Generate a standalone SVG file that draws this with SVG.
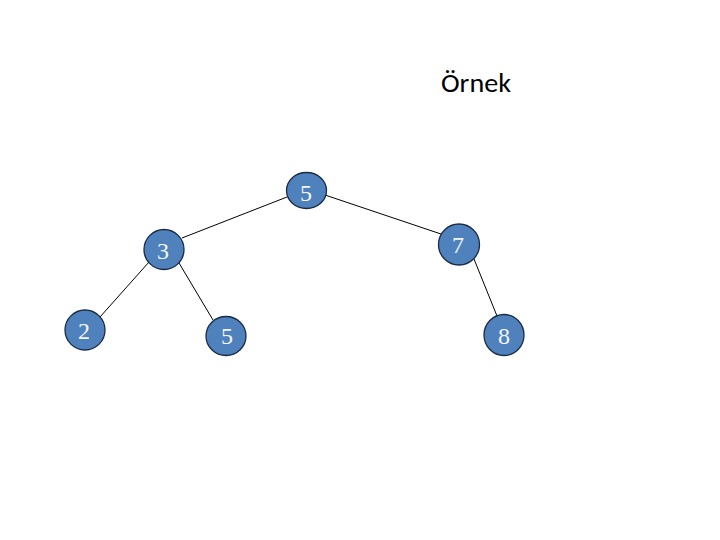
<svg xmlns="http://www.w3.org/2000/svg" width="720" height="540" viewBox="0 0 720 540">
<style>
.n{fill:#4F81BD;stroke:#1a2a44;stroke-width:1.3}
.t{font-family:"Liberation Serif","Times New Roman",serif;font-size:24px;fill:#f2f6fc;text-anchor:middle}
.e{stroke:#000;stroke-width:1;fill:none}
.title{font-family:Carlito,"Open Sans","Liberation Sans",sans-serif;font-size:26px;fill:#000}
</style>
<rect width="720" height="540" fill="#fff"/>
<text class="title" x="441" y="92" textLength="70" lengthAdjust="spacingAndGlyphs">Örnek</text>
<g id="connectors">
<line class="e" x1="287" y1="197" x2="182" y2="238"/>
<line class="e" x1="325" y1="195" x2="441" y2="234"/>
<line class="e" x1="149" y1="262" x2="100" y2="317"/>
<line class="e" x1="179" y1="263" x2="213" y2="320"/>
<line class="e" x1="474" y1="259" x2="497" y2="316"/>
</g>
<g id="n5top"><ellipse class="n" cx="306.5" cy="190.5" rx="20" ry="18"/><text class="t" x="306" y="201">5</text></g>
<g id="n3"><ellipse class="n" cx="164" cy="249.5" rx="20" ry="20"/><text class="t" x="163" y="259">3</text></g>
<g id="n7"><ellipse class="n" cx="459" cy="244.5" rx="20.5" ry="20.5"/><text class="t" x="458" y="253">7</text></g>
<g id="n2"><ellipse class="n" cx="85" cy="330" rx="20" ry="20"/><text class="t" x="84" y="339">2</text></g>
<g id="n5bot"><ellipse class="n" cx="226" cy="336" rx="20" ry="19.5"/><text class="t" x="227" y="344">5</text></g>
<g id="n8"><ellipse class="n" cx="504" cy="335" rx="20" ry="20.5"/><text class="t" x="504" y="344">8</text></g>
</svg>
